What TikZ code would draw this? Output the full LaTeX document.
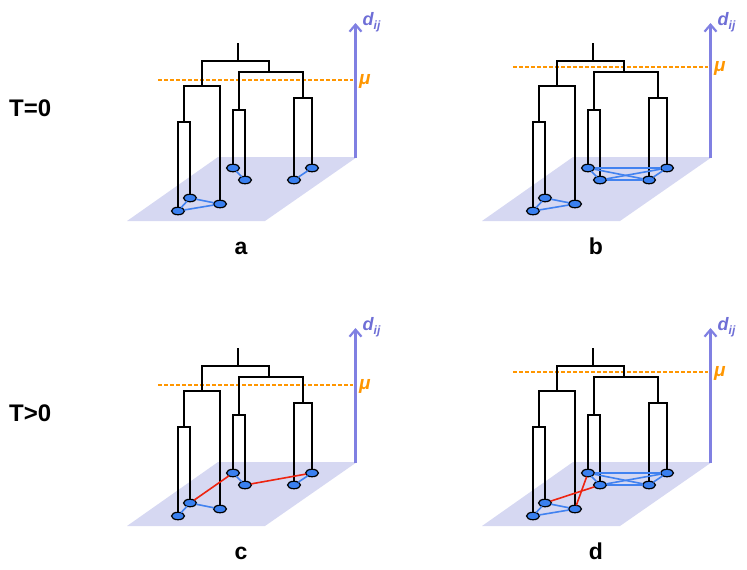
\documentclass[tikz,border=0pt]{standalone}
\usepackage{fontspec}
\setmainfont{Liberation Sans}
\usetikzlibrary{shapes.geometric,arrows.meta}
\definecolor{planec}{RGB}{214,216,242}
\definecolor{axisc}{RGB}{128,128,226}
\definecolor{dlabc}{RGB}{110,110,214}
\definecolor{orangec}{RGB}{255,150,0}
\definecolor{nodec}{RGB}{58,128,240}
\definecolor{edgeb}{RGB}{66,130,240}
\definecolor{edger}{RGB}{238,36,16}
\tikzset{
  leaf/.style={ellipse,draw=black,line width=1.2pt,fill=nodec,minimum width=13pt,minimum height=7.5pt,inner sep=0pt,outer sep=0pt},
  axisline/.style={axisc,line width=2.8pt,-{Straight Barb[length=7pt,width=12pt,line width=2.2pt]}},
  mudash/.style={orangec,line width=1.6pt,dash pattern=on 4pt off 2pt},
  dendro/.style={black,line width=2pt},
  eb/.style={edgeb,line width=1.6pt},
  er/.style={edger,line width=1.6pt},
  dlab/.style={text=dlabc,font=\fontsize{18}{18}\selectfont\bfseries\itshape,inner sep=0pt},
  mulab/.style={text=orangec,font=\fontsize{19}{19}\selectfont\bfseries\itshape,inner sep=0pt},
  tlab/.style={font=\fontsize{24}{24}\selectfont\bfseries,inner sep=0pt},
  plab/.style={font=\fontsize{23}{23}\selectfont\bfseries,inner sep=0pt}
}
\newcommand\panelbase[1]{%
  \fill[planec] (127,221) -- (265,221) -- (357,157) -- (218,157) -- cycle;
  \draw[axisline] (355.5,158) -- (355.5,23);
  \node[dlab,anchor=base west] (dl) at (362.5,25.5) {d\raisebox{-0.4ex}{\fontsize{12}{12}\selectfont ij}};
  \draw[mudash] (158,#1) -- (353,#1);
  \node[mulab,anchor=west] (ml) at (359,#1+1.5) {μ};
  \node[leaf] (n1) at (178,211) {};
  \node[leaf] (n2) at (190,198) {};
  \node[leaf] (n3) at (220,204) {};
  \node[leaf] (n4) at (233,168) {};
  \node[leaf] (n5) at (245,180) {};
  \node[leaf] (n6) at (294,180) {};
  \node[leaf] (n7) at (312,168) {};
  \draw[dendro] (238,43) -- (238,61);
  \draw[dendro] (202,86) |- (269,61) -- (269,72);
  \draw[dendro] (184,122) |- (220,86) -- (n3.north);
  \draw[dendro] (n1.north) |- (190,122) -- (n2.north);
  \draw[dendro] (239,110) |- (303,72) -- (303,98);
  \draw[dendro] (n4.north) |- (245,110) -- (n5.north);
  \draw[dendro] (n6.north) |- (312,98) -- (n7.north);
}
\begin{document}
\begin{tikzpicture}[x=1pt,y=-1pt]
\useasboundingbox (0,0) rectangle (747,570);
\node[tlab,anchor=base west] (t0) at (9,116) {T=0};
\node[tlab,anchor=base west] (t1) at (9,421) {T>0};
% panel a
\begin{scope}[name prefix=a-]
  \panelbase{80}
  \draw[eb] (n1) -- (n2); \draw[eb] (n2) -- (n3); \draw[eb] (n1) -- (n3);
  \draw[eb] (n4) -- (n5); \draw[eb] (n6) -- (n7);
  \node[plab,anchor=base] (lab) at (241,254.5) {a};
\end{scope}
% panel b
\begin{scope}[shift={(355,0)},name prefix=b-]
  \panelbase{67}
  \draw[eb] (n1) -- (n2); \draw[eb] (n2) -- (n3); \draw[eb] (n1) -- (n3);
  \draw[eb] (n4) -- (n7); \draw[eb] (n5) -- (n6); \draw[eb] (n4) -- (n5);
  \draw[eb] (n6) -- (n7); \draw[eb] (n4) -- (n6); \draw[eb] (n5) -- (n7);
  \node[plab,anchor=base] (lab) at (241,254.5) {b};
\end{scope}
% panel c
\begin{scope}[shift={(0,305)},name prefix=c-]
  \panelbase{80}
  \draw[eb] (n1) -- (n2); \draw[eb] (n2) -- (n3);
  \draw[eb] (n4) -- (n5); \draw[eb] (n6) -- (n7);
  \draw[er] (n2) -- (n4); \draw[er] (n5) -- (n7);
  \node[plab,anchor=base] (lab) at (241,254.5) {c};
\end{scope}
% panel d
\begin{scope}[shift={(355,305)},name prefix=d-]
  \panelbase{67}
  \draw[eb] (n1) -- (n2); \draw[eb] (n2) -- (n3); \draw[eb] (n1) -- (n3);
  \draw[eb] (n4) -- (n7); \draw[eb] (n5) -- (n6); \draw[eb] (n4) -- (n5);
  \draw[eb] (n6) -- (n7); \draw[eb] (n4) -- (n6); \draw[eb] (n5) -- (n7);
  \draw[er] (n2) -- (n5); \draw[er] (n3) -- (n4);
  \node[plab,anchor=base] (lab) at (241,254.5) {d};
\end{scope}
\end{tikzpicture}
\end{document}
